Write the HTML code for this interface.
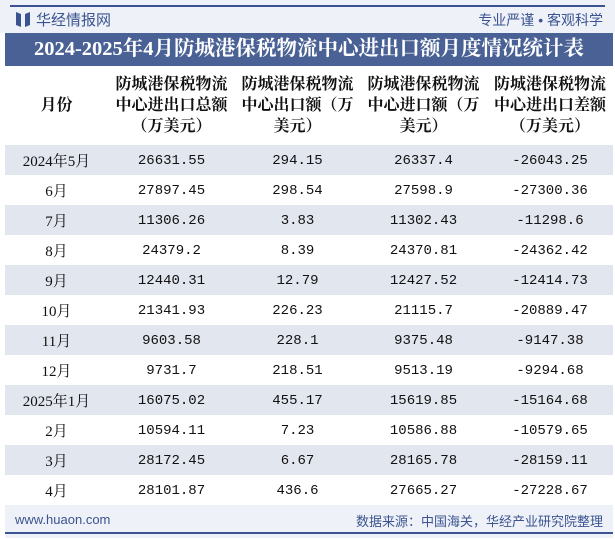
<!DOCTYPE html>
<html><head><meta charset="utf-8"><style>
body{margin:0;width:615px;height:540px;background:#fff;position:relative;overflow:hidden;font-family:"Liberation Serif","Noto Serif CJK SC",serif}
.abs{position:absolute}
#topbar{left:0;top:0;width:615px;height:33px;background:#eef1f7}
#topline{left:10px;top:5px;width:595px;height:2px;background:#3b5391}
#logo{left:16px;top:11px;width:14px;height:16px}
#brand{left:36px;top:9px;font-family:"Liberation Sans","Noto Sans CJK SC",sans-serif;font-size:15px;color:#3b5391}
#slogan{right:12px;top:10px;font-family:"Liberation Sans","Noto Sans CJK SC",sans-serif;font-size:14px;color:#3b5391}
#title{left:5px;top:33px;width:608px;height:33px;background:#4a6195;color:#fff;font-weight:bold;font-size:20.5px;line-height:33px;text-align:center;white-space:nowrap}
table{position:absolute;left:5px;top:66px;width:608px;border-collapse:collapse}
th{height:79px;font-size:16px;font-weight:bold;line-height:21px;padding:0;color:#111}
td{height:29px;padding:0;padding-top:1px;text-align:center;font-family:"Liberation Mono","Noto Sans CJK SC",monospace;font-size:14px;color:#111}
td.m{font-family:"Liberation Serif","Noto Serif CJK SC",serif;font-size:15px}
tr.s td{background:#e2e6ef}
#footer{left:5px;top:505px;width:608px;height:33px;background:#eef1f7}
#furl{left:15px;top:512px;font-family:"Liberation Sans",sans-serif;font-size:13px;color:#3b5391}
#fsrc{right:12px;top:511px;font-family:"Liberation Sans","Noto Sans CJK SC",sans-serif;font-size:13px;color:#3b5391}
#botline{left:5px;top:532px;width:608px;height:2px;background:#3b5391}
</style></head><body>
<div class="abs" id="topbar"></div>
<div class="abs" id="topline"></div>
<svg class="abs" id="logo" viewBox="0 0 14 16"><path d="M0 1 L5 3 V16 L0 14Z M14 1 L9 3 V16 L14 14Z" fill="#3b5391"/></svg>
<div class="abs" id="brand">华经情报网</div>
<div class="abs" id="slogan">专业严谨 • 客观科学</div>
<div class="abs" id="title">2024-2025年4月防城港保税物流中心进出口额月度情况统计表</div>
<table>
<colgroup><col style="width:103px"><col style="width:127px"><col style="width:125px"><col style="width:127px"><col style="width:126px"></colgroup>
<tr>
<th>月份</th>
<th>防城港保税物流<br>中心进出口总额<br>（万美元）</th>
<th>防城港保税物流<br>中心出口额（万<br>美元）</th>
<th>防城港保税物流<br>中心进口额（万<br>美元）</th>
<th>防城港保税物流<br>中心进出口差额<br>（万美元）</th>
</tr>
<tbody id="tb"></tbody>
</table>
<div class="abs" id="footer"></div>
<div class="abs" id="furl">www.huaon.com</div>
<div class="abs" id="fsrc">数据来源：中国海关，华经产业研究院整理</div>
<div class="abs" id="botline"></div>
<script>
const months=["2024年5月","6月","7月","8月","9月","10月","11月","12月","2025年1月","2月","3月","4月"];
const totals=["26631.55","27897.45","11306.26","24379.2","12440.31","21341.93","9603.58","9731.7","16075.02","10594.11","28172.45","28101.87"];
const exportsV=["294.15","298.54","3.83","8.39","12.79","226.23","228.1","218.51","455.17","7.23","6.67","436.6"];
const importsV=["26337.4","27598.9","11302.43","24370.81","12427.52","21115.7","9375.48","9513.19","15619.85","10586.88","28165.78","27665.27"];
const balances=["-26043.25","-27300.36","-11298.6","-24362.42","-12414.73","-20889.47","-9147.38","-9294.68","-15164.68","-10579.65","-28159.11","-27228.67"];
const tb=document.getElementById('tb');
months.forEach((m,i)=>{
 const tr=document.createElement('tr');
 
 
 if(i%2===0)tr.className='s';
 [m,totals[i],exportsV[i],importsV[i],balances[i]].forEach((v,j)=>{
  const td=document.createElement('td');
  
  
  if(j===0)td.className='m';
  td.textContent=v;tr.appendChild(td);
 });
 tb.appendChild(tr);
});
</script>
</body></html>
